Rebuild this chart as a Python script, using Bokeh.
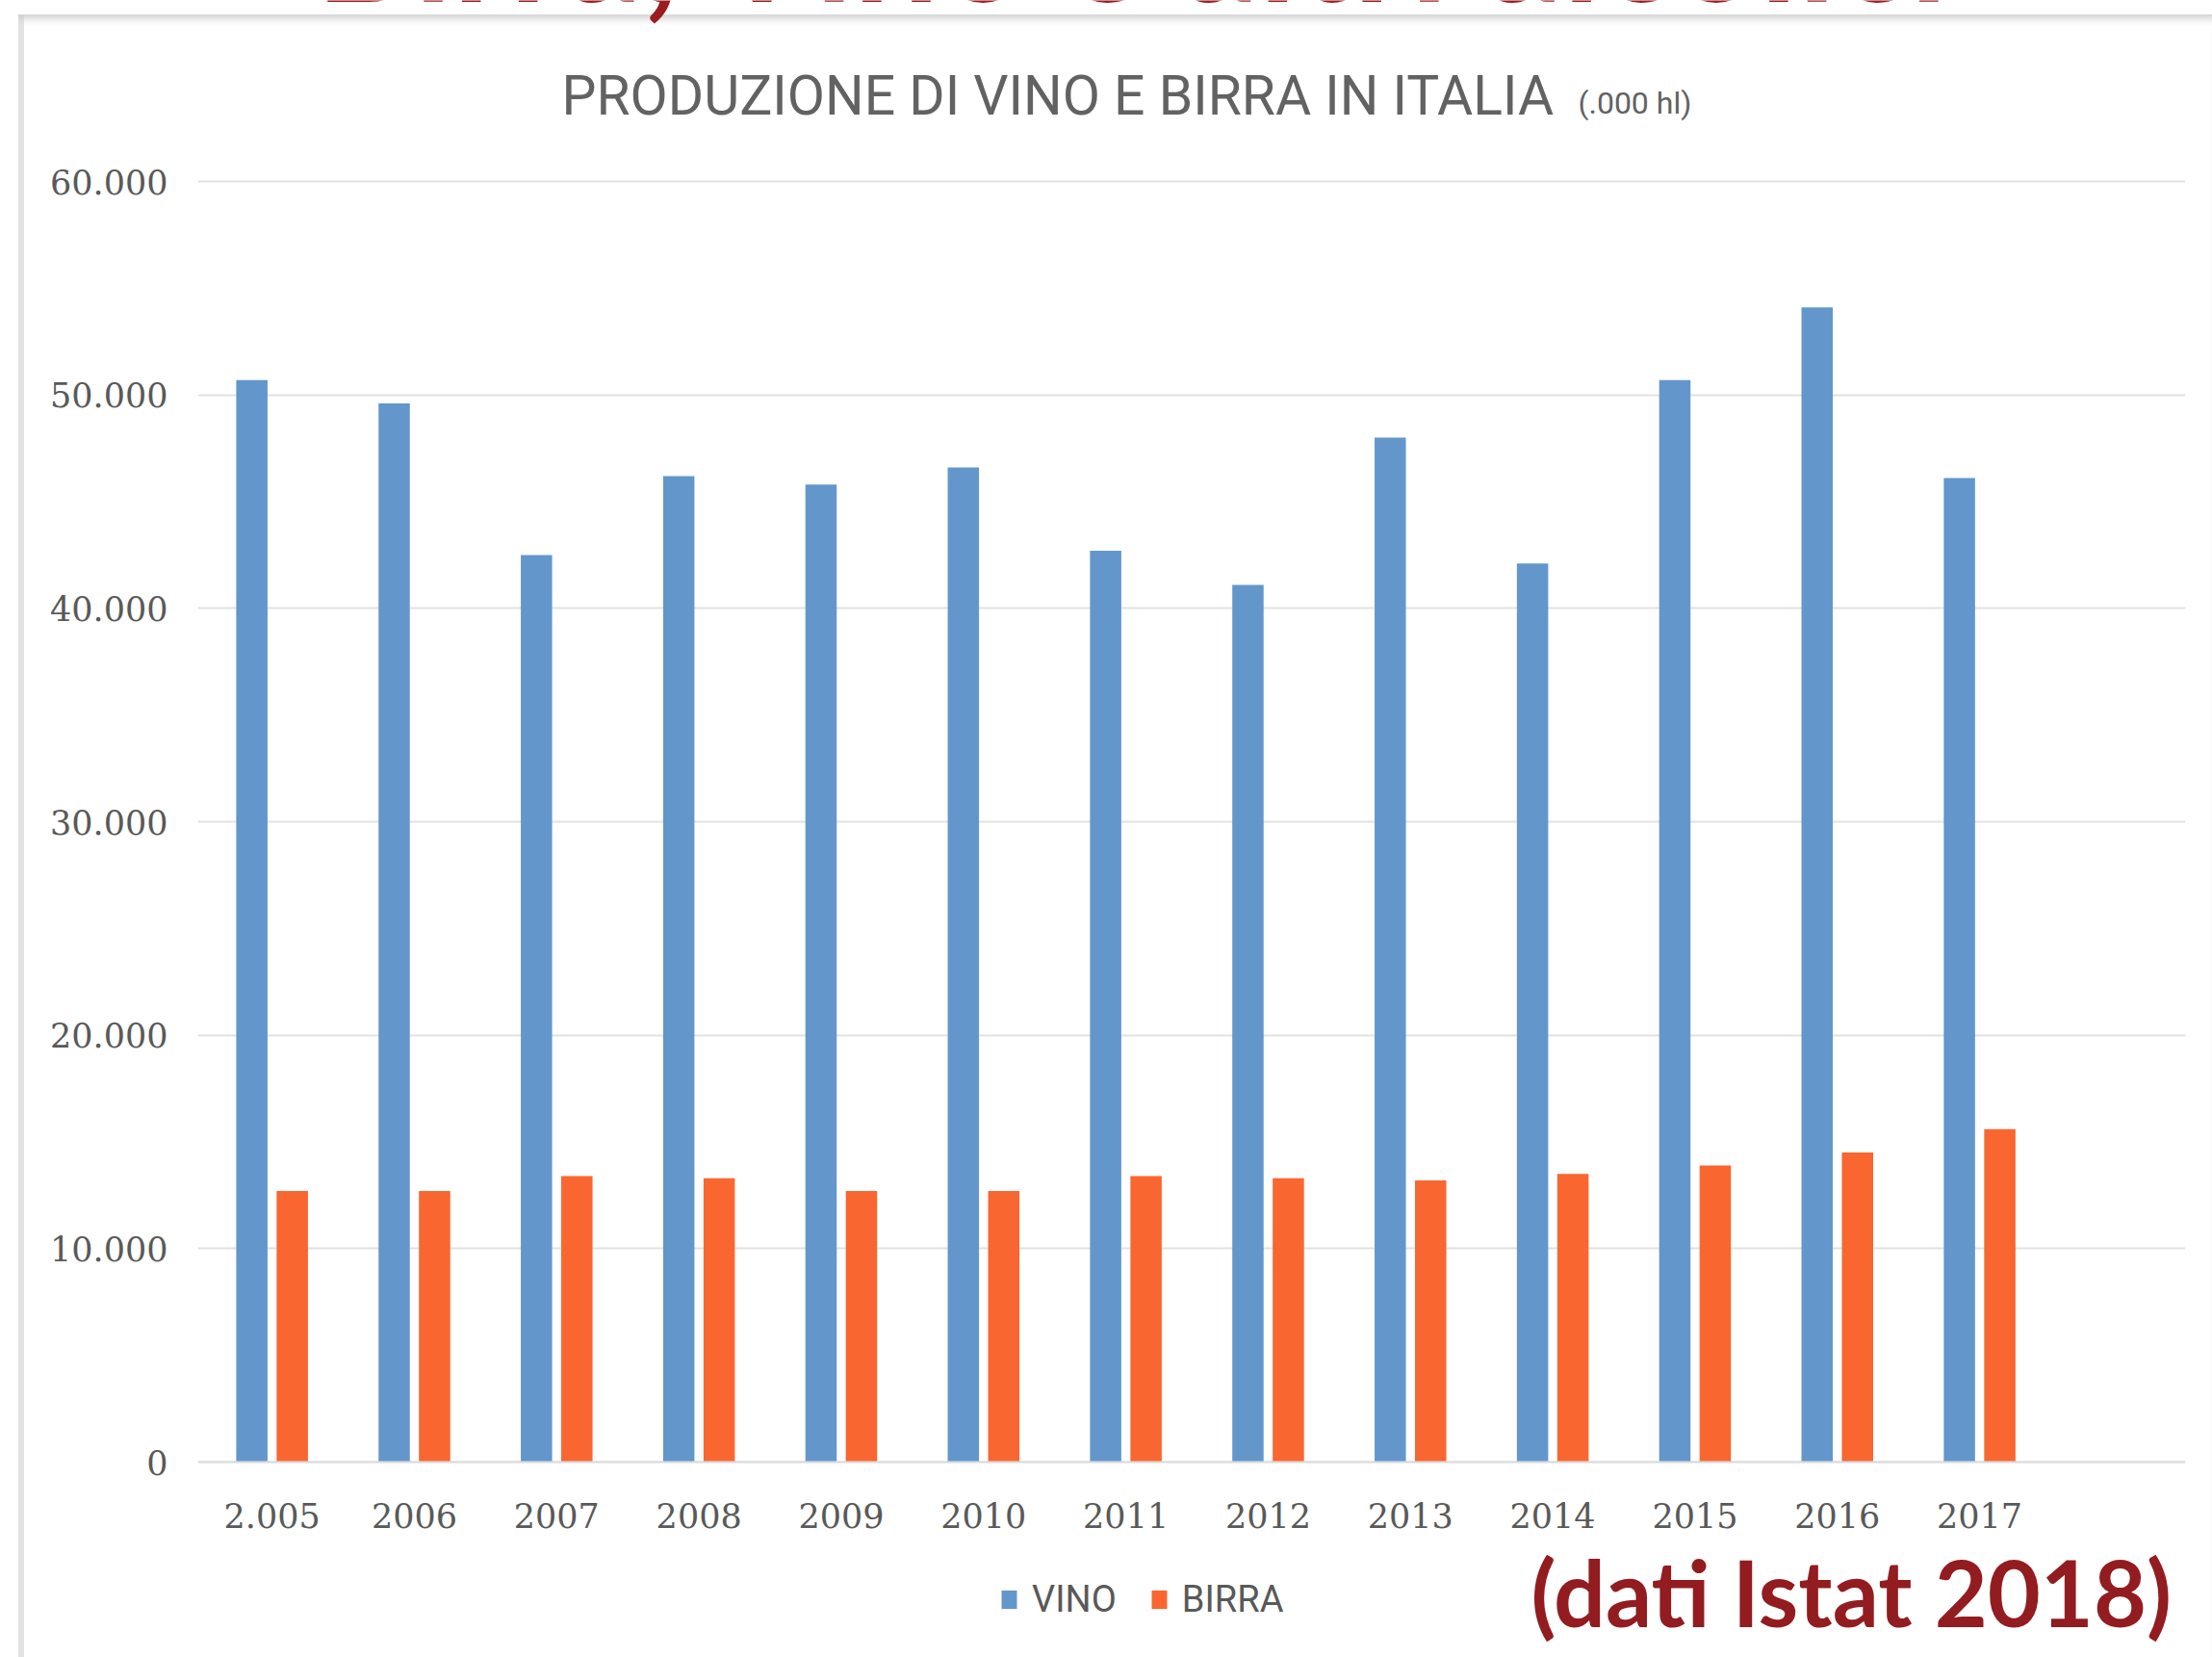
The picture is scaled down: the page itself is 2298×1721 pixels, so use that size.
import numpy as np
from bokeh.plotting import figure
from bokeh.models import ColumnDataSource, Label, Legend, LegendItem, FixedTicker
from bokeh.transform import dodge
from bokeh.embed import file_html
from bokeh.resources import INLINE

# ---------------- data ----------------
years = ["2005", "2006", "2007", "2008", "2009", "2010", "2011",
         "2012", "2013", "2014", "2015", "2016", "2017"]
year_labels = ["2.005", "2006", "2007", "2008", "2009", "2010", "2011",
               "2012", "2013", "2014", "2015", "2016", "2017"]
vino = [50700, 49600, 42500, 46200, 45800, 46600, 42700,
        41100, 48000, 42100, 50700, 54100, 46100]
birra = [12700, 12700, 13400, 13300, 12700, 12700, 13400,
         13300, 13200, 13500, 13900, 14500, 15600]
y_ticks = [0, 10000, 20000, 30000, 40000, 50000, 60000]
y_tick_labels = ["0", "10.000", "20.000", "30.000", "40.000", "50.000", "60.000"]
series_names = ["VINO", "BIRRA"]
title_text = "PRODUZIONE DI VINO E BIRRA IN ITALIA"
unit_text = "(.000 hl)"
source_text = "(dati Istat 2018)"
slide_title = "Birra, Vino e altri alcolici"

# ---------------- layout ----------------
W, H = 2298, 1721
FL, FR = 205, 28                 # canvas borders left / right
PAGE_ZERO, PAGE_TOP = 1518, 188  # page y of value 0 and of value 60000
PX_PER_UNIT = (PAGE_ZERO - PAGE_TOP) / 60000.0
X0, X1 = -0.522, 13.447
Y1 = 60000 + PAGE_TOP / PX_PER_UNIT
Y0 = -(H - PAGE_ZERO) / PX_PER_UNIT
BLUE = "#6397cc"
ORANGE = "#f96630"
GREY = "#595959"
RED = "#921c1f"


def px_x(page_x):
    return X0 + (page_x - FL) / (W - FL - FR) * (X1 - X0)


def px_y(page_y):
    return (PAGE_ZERO - page_y) / PX_PER_UNIT


def baseline(page_y, size, k=0.32):
    # Label anchor that puts the alphabetic baseline near page_y
    return px_y(page_y - k * size)


idx = list(range(len(years)))
src = ColumnDataSource(dict(x=idx, year=years, vino=vino, birra=birra))

p = figure(width=W, height=H, x_range=(X0, X1), y_range=(Y0, Y1),
           output_backend="svg", toolbar_location=None,
           min_border_left=FL, min_border_right=FR,
           min_border_top=0, min_border_bottom=0,
           background_fill_color=None, border_fill_color=None,
           outline_line_color=None)
p.styles = {
    "box-shadow": ("inset 0 15px 0 0 #ffffff, inset 19px 0 0 0 #ffffff, "
                   "inset 0 25px 8px -6px #cdcdcd, inset 25px 0 0 0 #e2e2e2"),
    "background-color": "#ffffff",
}

r1 = p.vbar(x=dodge("x", -0.142), top="vino", width=0.22, source=src,
            fill_color=BLUE, line_color=None)
r2 = p.vbar(x=dodge("x", 0.142), top="birra", width=0.22, source=src,
            fill_color=ORANGE, line_color=None)

# axes
p.xaxis.fixed_location = 0
p.xaxis.ticker = FixedTicker(ticks=idx)
p.xaxis.major_label_overrides = {i: lab for i, lab in enumerate(year_labels)}
p.yaxis.ticker = FixedTicker(ticks=y_ticks)
p.yaxis.major_label_overrides = {t: lab for t, lab in zip(y_ticks, y_tick_labels)}
for ax in (p.xaxis, p.yaxis):
    ax.major_tick_line_color = None
    ax.minor_tick_line_color = None
    ax.major_label_text_font = "DejaVu Serif"
    ax.major_label_text_font_size = "35px"
    ax.major_label_text_color = GREY
p.yaxis.axis_line_color = None
p.xaxis.axis_line_color = "#dcdcdc"
p.xaxis.axis_line_width = 2
p.yaxis.major_label_standoff = 25
p.xaxis.major_label_standoff = 36

p.xgrid.grid_line_color = None
p.ygrid.grid_line_color = "#e2e2e2"
p.ygrid.grid_line_width = 2

# legend (frame reaches the canvas bottom)
legend = Legend(items=[LegendItem(label=series_names[0], renderers=[r1]),
                       LegendItem(label=series_names[1], renderers=[r2])],
                orientation="horizontal", location=(833, 38),
                background_fill_alpha=0, border_line_color=None,
                glyph_width=20, glyph_height=24, label_standoff=14,
                spacing=34, padding=8, margin=0,
                label_text_font="Roboto", label_text_font_size="38px",
                label_text_color=GREY)
p.add_layout(legend, "center")

# slide heading, cut by the top edge as in the source image
p.add_layout(Label(x=px_x(327), y=px_y(-60), text=slide_title,
                   text_font="Lato", text_font_size="158px",
                   text_font_style="bold", text_color="#9b1c1f",
                   text_align="left", text_baseline="alphabetic"))
# chart title
p.add_layout(Label(x=px_x(583), y=baseline(117, 57), text=title_text,
                   text_font="Roboto", text_font_size="57px",
                   text_color="#626262", text_align="left",
                   text_baseline="alphabetic"))
p.add_layout(Label(x=px_x(1639), y=baseline(117, 32), text=unit_text,
                   text_font="Roboto", text_font_size="32px",
                   text_color="#626262", text_align="left",
                   text_baseline="alphabetic"))
# source note
p.add_layout(Label(x=px_x(1590), y=baseline(1683, 95), text=source_text,
                   text_font="Lato", text_font_size="95px",
                   text_font_style="bold",
                   text_color=RED, text_align="left",
                   text_baseline="alphabetic"))

open("out.html", "w").write(file_html(p, INLINE))
